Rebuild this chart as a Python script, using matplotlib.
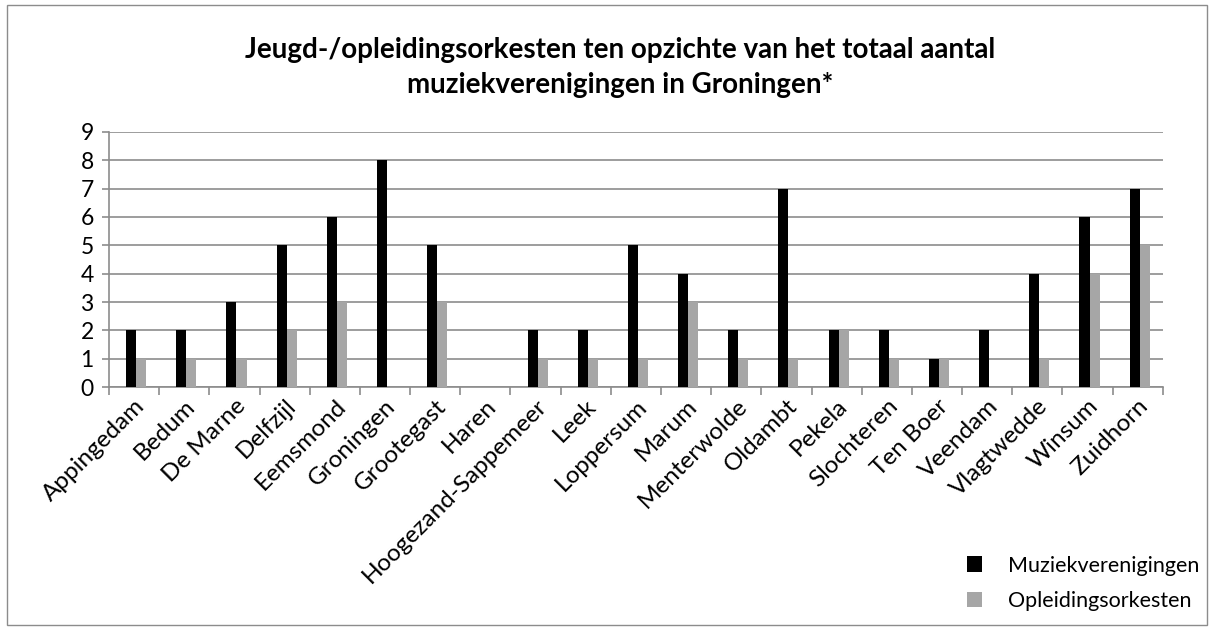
import matplotlib.pyplot as plt
import numpy as np
from matplotlib.patches import Rectangle

plt.rcParams['font.family'] = ['Lato', 'DejaVu Sans']

gemeenten = ['Appingedam', 'Bedum', 'De Marne', 'Delfzijl', 'Eemsmond', 'Groningen',
             'Grootegast', 'Haren', 'Hoogezand-Sappemeer', 'Leek', 'Loppersum', 'Marum',
             'Menterwolde', 'Oldambt', 'Pekela', 'Slochteren', 'Ten Boer', 'Veendam',
             'Vlagtwedde', 'Winsum', 'Zuidhorn']
muziekverenigingen = [2, 2, 3, 5, 6, 8, 5, 0, 2, 2, 5, 4, 2, 7, 2, 2, 1, 2, 4, 6, 7]
opleidingsorkesten = [1, 1, 1, 2, 3, 0, 3, 0, 1, 1, 1, 3, 1, 1, 2, 1, 1, 0, 1, 4, 5]

fig = plt.figure(figsize=(12.14, 6.30), dpi=100)
ax = fig.add_axes([0.0898, 0.3857, 0.868, 0.4048])

x = np.arange(len(gemeenten))
w = 0.2
ax.bar(x - w / 2 + 0.04, muziekverenigingen, width=w, color='black', label='Muziekverenigingen', zorder=3)
ax.bar(x + w / 2 + 0.04, opleidingsorkesten, width=w, color='#a6a6a6', label='Opleidingsorkesten', zorder=3)

ax.set_xlim(-0.5, len(gemeenten) - 0.5)
ax.set_ylim(0, 9)
ax.set_yticks(range(10))
ax.yaxis.grid(True, color='#8c8c8c', linewidth=1.2, zorder=0)
ax.set_axisbelow(True)

# ticks between categories, labels at centres
ax.set_xticks(np.arange(len(gemeenten) + 1) - 0.5)
ax.set_xticklabels([])
ax.set_xticks(x, minor=True)
ax.set_xticklabels(gemeenten, minor=True, rotation=45, ha='right', rotation_mode='anchor', fontsize=17.5)
ax.tick_params(axis='x', which='minor', length=0, pad=6)
ax.tick_params(axis='x', which='major', length=6, color='#8c8c8c', width=1.2)
ax.tick_params(axis='y', length=5, color='#8c8c8c', width=1.2, labelsize=16.5, pad=6)

for s in ['top', 'right']:
    ax.spines[s].set_visible(False)
for s in ['left', 'bottom']:
    ax.spines[s].set_color('#8c8c8c')
    ax.spines[s].set_linewidth(1.2)

fig.text(0.511, 0.893, 'Jeugd-/opleidingsorkesten ten opzichte van het totaal aantal\nmuziekverenigingen in Groningen*',
         ha='center', va='center', fontsize=20, fontweight='bold', linespacing=1.4)

fig.legend(loc='lower right', bbox_to_anchor=(1.004, 0.0), frameon=False, fontsize=15.5,
           handlelength=0.7, handleheight=0.7, handletextpad=1.2, labelspacing=0.7)

fig.patches.append(Rectangle((0.006, 0.008), 0.988, 0.984, transform=fig.transFigure,
                             fill=False, edgecolor='#8c8c8c', linewidth=1))

fig.savefig('out.png', dpi=100)
